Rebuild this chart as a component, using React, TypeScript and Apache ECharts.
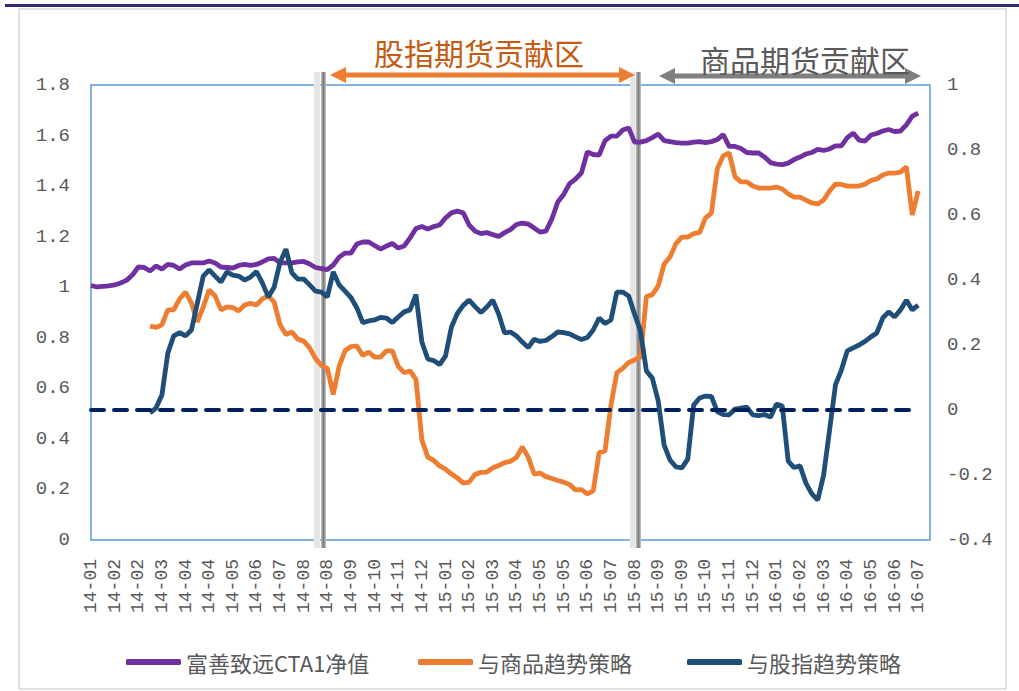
import React, { useEffect, useRef } from "react";
import * as echarts from "echarts";

// x-axis tick labels (one every 4 weekly points)
const tickLabels = [
  "14-01", "14-02", "14-02", "14-03", "14-04", "14-04", "14-05", "14-06", "14-07", "14-08", "14-08", "14-09",
  "14-10", "14-11", "14-12", "15-01", "15-02", "15-03", "15-04", "15-05", "15-05", "15-06", "15-07", "15-08",
  "15-09", "15-09", "15-10", "15-11", "15-12", "16-01", "16-02", "16-03", "16-04", "16-05", "16-06", "16-07",
];
const pointCount = 143;

const seriesNames = ["富善致远CTA1净值", "与商品趋势策略", "与股指趋势策略"];

// 富善致远CTA1净值 (left axis)
const navValues = [
  1.007, 1.001, 1.003, 1.005, 1.009, 1.017, 1.027, 1.048, 1.080, 1.078,
  1.064, 1.084, 1.072, 1.090, 1.086, 1.072, 1.088, 1.096, 1.096, 1.096,
  1.104, 1.096, 1.080, 1.078, 1.076, 1.086, 1.090, 1.086, 1.090, 1.100,
  1.112, 1.114, 1.096, 1.096, 1.096, 1.100, 1.102, 1.092, 1.078, 1.074,
  1.070, 1.088, 1.119, 1.135, 1.135, 1.171, 1.179, 1.179, 1.165, 1.151,
  1.163, 1.173, 1.155, 1.163, 1.195, 1.232, 1.240, 1.230, 1.240, 1.246,
  1.274, 1.294, 1.301, 1.294, 1.246, 1.222, 1.212, 1.216, 1.208, 1.201,
  1.216, 1.228, 1.248, 1.254, 1.250, 1.234, 1.218, 1.222, 1.270, 1.337,
  1.367, 1.410, 1.428, 1.452, 1.535, 1.525, 1.523, 1.580, 1.598, 1.598,
  1.622, 1.630, 1.574, 1.574, 1.580, 1.592, 1.606, 1.580, 1.576, 1.572,
  1.570, 1.570, 1.574, 1.576, 1.572, 1.576, 1.584, 1.604, 1.557, 1.557,
  1.549, 1.533, 1.531, 1.531, 1.515, 1.493, 1.487, 1.485, 1.491, 1.505,
  1.515, 1.527, 1.533, 1.545, 1.541, 1.547, 1.559, 1.559, 1.592, 1.610,
  1.582, 1.578, 1.602, 1.608, 1.618, 1.624, 1.616, 1.618, 1.642, 1.677,
  1.689,
];

// 与商品趋势策略 (right axis)
const commodityCorr = [
  null, null, null, null, null, null, null, null, null, null,
  0.258, 0.254, 0.262, 0.308, 0.308, 0.342, 0.363, 0.329, 0.271, 0.317,
  0.369, 0.351, 0.308, 0.317, 0.315, 0.305, 0.323, 0.328, 0.323, 0.342,
  0.351, 0.332, 0.262, 0.232, 0.240, 0.218, 0.212, 0.191, 0.158, 0.137,
  0.128, 0.048, 0.135, 0.183, 0.195, 0.197, 0.168, 0.178, 0.163, 0.163,
  0.182, 0.182, 0.134, 0.115, 0.120, 0.094, -0.092, -0.145, -0.155, -0.172,
  -0.182, -0.197, -0.209, -0.225, -0.222, -0.198, -0.192, -0.191, -0.178, -0.171,
  -0.162, -0.158, -0.146, -0.114, -0.145, -0.197, -0.194, -0.205, -0.211, -0.217,
  -0.222, -0.229, -0.246, -0.245, -0.258, -0.249, -0.131, -0.126, 0.015, 0.115,
  0.128, 0.146, 0.154, 0.163, 0.349, 0.355, 0.382, 0.449, 0.471, 0.512,
  0.532, 0.532, 0.543, 0.546, 0.591, 0.606, 0.742, 0.782, 0.791, 0.717,
  0.702, 0.702, 0.689, 0.683, 0.683, 0.683, 0.686, 0.680, 0.665, 0.655,
  0.655, 0.646, 0.637, 0.634, 0.646, 0.674, 0.695, 0.694, 0.689, 0.689,
  0.689, 0.695, 0.706, 0.711, 0.723, 0.729, 0.729, 0.732, 0.748, 0.600,
  0.674,
];

// 与股指趋势策略 (right axis)
const indexCorr = [
  null, null, null, null, null, null, null, null, null, null,
  -0.009, 0.006, 0.046, 0.175, 0.228, 0.238, 0.228, 0.246, 0.329, 0.412,
  0.431, 0.412, 0.394, 0.425, 0.415, 0.412, 0.400, 0.409, 0.426, 0.391,
  0.348, 0.378, 0.455, 0.495, 0.422, 0.403, 0.403, 0.385, 0.366, 0.363,
  0.348, 0.425, 0.385, 0.366, 0.346, 0.314, 0.269, 0.274, 0.277, 0.285,
  0.283, 0.269, 0.286, 0.302, 0.308, 0.355, 0.209, 0.157, 0.152, 0.140,
  0.166, 0.255, 0.297, 0.322, 0.338, 0.318, 0.300, 0.317, 0.338, 0.295,
  0.237, 0.240, 0.228, 0.209, 0.192, 0.218, 0.211, 0.214, 0.226, 0.240,
  0.238, 0.234, 0.225, 0.217, 0.223, 0.246, 0.283, 0.266, 0.277, 0.363,
  0.363, 0.351, 0.295, 0.243, 0.120, 0.098, 0.028, -0.108, -0.154, -0.175,
  -0.178, -0.151, 0.015, 0.037, 0.043, 0.042, -0.005, -0.014, -0.015, 0.003,
  0.006, 0.009, -0.015, -0.017, -0.014, -0.022, 0.018, 0.012, -0.157, -0.177,
  -0.172, -0.225, -0.258, -0.277, -0.200, -0.062, 0.077, 0.123, 0.182, 0.191,
  0.200, 0.211, 0.225, 0.237, 0.283, 0.302, 0.286, 0.308, 0.338, 0.308,
  0.323,
];

const zeroLineStart = 0;
const zeroLineEnd = 139;

const categories: string[] = [];
for (let i = 0; i < pointCount; i++) {
  const j = Math.min(Math.floor(i / 4), tickLabels.length - 1);
  categories.push(`${tickLabels[j]}|${i}`);
}

const GRAY_TEXT = "#595959";
const MONO = '"Liberation Mono", "DejaVu Sans Mono", monospace';
const CJK = '"Noto Sans CJK SC", sans-serif';

function vLine(xLight: number, xDark: number) {
  return [
    {
      type: "rect",
      z: 1,
      shape: { x: xLight, y: 72, width: 6, height: 476 },
      style: { fill: "#e6e6e6" },
    },
    {
      type: "rect",
      z: 1,
      shape: { x: xDark, y: 72, width: 5, height: 476 },
      style: {
        fill: new echarts.graphic.LinearGradient(0, 0, 1, 0, [
          { offset: 0, color: "#c8c8c8" },
          { offset: 0.5, color: "#7a7a7a" },
          { offset: 1, color: "#c8c8c8" },
        ]),
      },
    },
  ];
}

function arrow(x1: number, x2: number, y: number, color: string) {
  return [
    {
      type: "line",
      z: 5,
      shape: { x1: x1 + 10, y1: y, x2: x2 - 10, y2: y },
      style: { stroke: color, lineWidth: 5 },
    },
    {
      type: "polygon",
      z: 5,
      shape: { points: [[x1, y], [x1 + 16, y - 8], [x1 + 16, y + 8]] },
      style: { fill: color },
    },
    {
      type: "polygon",
      z: 5,
      shape: { points: [[x2, y], [x2 - 16, y - 8], [x2 - 16, y + 8]] },
      style: { fill: color },
    },
  ];
}

function legendAt(name: string, left: number) {
  return {
    data: [name],
    left,
    top: 646,
    icon: "roundRect",
    itemWidth: 55,
    itemHeight: 6,
    selectedMode: false,
    textStyle: { fontSize: 22, color: GRAY_TEXT, fontFamily: CJK },
  };
}

export default function App() {
  const ref = useRef<HTMLDivElement>(null);

  useEffect(() => {
    if (!ref.current) return;
    const chart = echarts.init(ref.current, undefined, { renderer: "svg" });

    const option: any = {
      animation: false,
      backgroundColor: "#ffffff",
      grid: {
        left: 91,
        right: 89,
        top: 85,
        bottom: 151,
        show: true,
        borderColor: "#5b9bd5",
        borderWidth: 1.5,
        backgroundColor: "transparent",
      },
      legend: [
        legendAt(seriesNames[0], 121),
        legendAt(seriesNames[1], 413),
        legendAt(seriesNames[2], 682),
      ],
      xAxis: {
        type: "category",
        data: categories,
        boundaryGap: false,
        axisLine: { show: false },
        axisTick: { show: false },
        splitLine: { show: false },
        axisLabel: {
          interval: 3,
          rotate: 90,
          margin: 19,
          fontFamily: MONO,
          fontSize: 18,
          color: GRAY_TEXT,
          formatter: (v: string) => v.split("|")[0],
        },
      },
      yAxis: [
        {
          type: "value",
          min: 0,
          max: 1.8,
          interval: 0.2,
          axisLine: { show: false },
          axisTick: { show: false },
          splitLine: { show: false },
          axisLabel: { margin: 21, fontFamily: MONO, fontSize: 19, color: GRAY_TEXT },
        },
        {
          type: "value",
          min: -0.4,
          max: 1,
          interval: 0.2,
          axisLine: { show: false },
          axisTick: { show: false },
          splitLine: { show: false },
          axisLabel: { margin: 17, fontFamily: MONO, fontSize: 19, color: GRAY_TEXT },
        },
      ],
      series: [
        {
          name: seriesNames[0],
          type: "line",
          yAxisIndex: 0,
          data: navValues,
          symbol: "none",
          color: "#7030a0",
          lineStyle: { width: 4.8, color: "#7030a0" },
          z: 3,
        },
        {
          name: seriesNames[1],
          type: "line",
          yAxisIndex: 1,
          data: commodityCorr,
          symbol: "none",
          color: "#ed7d31",
          lineStyle: { width: 4.8, color: "#ed7d31" },
          z: 3,
          markLine: {
            silent: true,
            symbol: ["none", "none"],
            label: { show: false },
            lineStyle: { color: "#002060", width: 4, type: [13, 10], cap: "round" },
            data: [
              [
                { coord: [categories[zeroLineStart], 0] },
                { coord: [categories[zeroLineEnd], 0] },
              ],
            ],
          },
        },
        {
          name: seriesNames[2],
          type: "line",
          yAxisIndex: 1,
          data: indexCorr,
          symbol: "none",
          color: "#1f4e79",
          lineStyle: { width: 4.8, color: "#1f4e79" },
          z: 3,
        },
      ],
      graphic: [
        {
          type: "rect",
          z: 0,
          shape: { x: 5, y: 4, width: 1014, height: 3 },
          style: { fill: "#2f2c6e" },
        },
        {
          type: "rect",
          z: 0,
          shape: { x: 19, y: 9, width: 987, height: 680 },
          style: { fill: "none", stroke: "#d9d9d9", lineWidth: 1.5 },
        },
        ...vLine(314, 321),
        ...vLine(630, 636),
        ...arrow(330, 635, 75, "#ed7d31"),
        ...arrow(659, 921, 76, "#7f7f7f"),
        {
          type: "text",
          z: 6,
          x: 479,
          y: 52,
          style: {
            text: "股指期货贡献区",
            fill: "#c55a11",
            font: `30px ${CJK}`,
            textAlign: "center",
            textVerticalAlign: "middle",
            align: "center",
            verticalAlign: "middle",
          },
        },
        {
          type: "text",
          z: 6,
          x: 805,
          y: 59,
          style: {
            text: "商品期货贡献区",
            fill: GRAY_TEXT,
            font: `30px ${CJK}`,
            textAlign: "center",
            textVerticalAlign: "middle",
            align: "center",
            verticalAlign: "middle",
          },
        },
      ],
    };

    chart.setOption(option);
    return () => chart.dispose();
  }, []);

  return (
    <div
      ref={ref}
      style={{ position: "fixed", left: 0, top: 0, width: 1019, height: 691 }}
    />
  );
}
